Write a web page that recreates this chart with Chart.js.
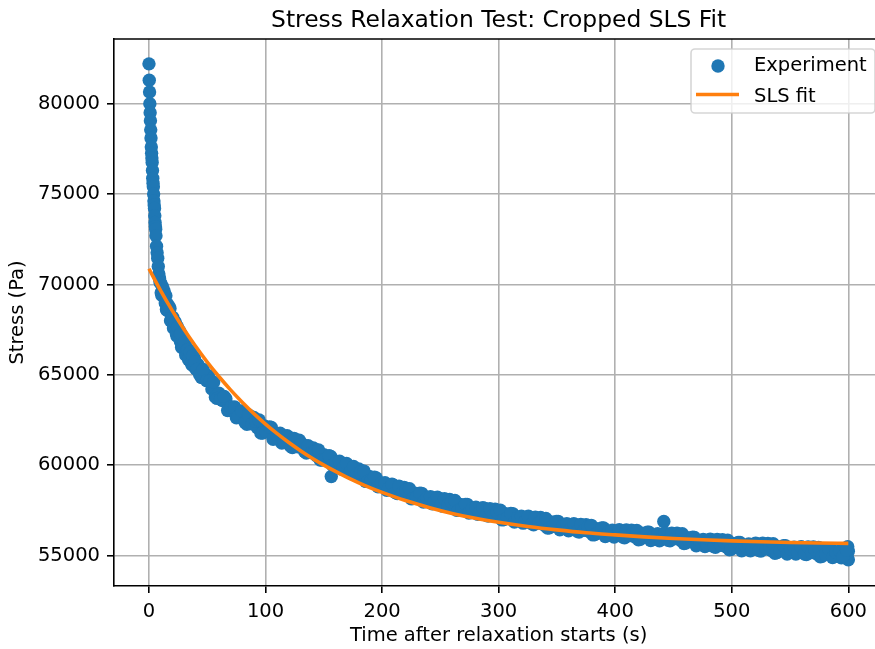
<!DOCTYPE html>
<html>
<head>
<meta charset="utf-8">
<script src="https://cdn.jsdelivr.net/npm/chart.js@4"></script>
<style>
	html, body { margin: 0; padding: 0; background: #fff; overflow: hidden; }
	canvas { display: block; }
</style>
</head>
<body>
<canvas id="CanvasRelaxation" width="890" height="649"></canvas>
<script>
var chartTitle = 'Stress Relaxation Test: Cropped SLS Fit';
var xLabel = 'Time after relaxation starts (s)';
var yLabel = 'Stress (Pa)';
var xTicks = [0, 100, 200, 300, 400, 500, 600];
var yTicks = [55000, 60000, 65000, 70000, 75000, 80000];

// measured points (time in s), first pass of samples
var expTime = [
	0, 0.25, 0.5, 0.75, 1, 1.25, 1.5, 1.75, 2, 2.25,
	2.5, 2.75, 3, 3.25, 3.5, 3.75, 4, 4.25, 4.5, 4.75,
	5, 5.25, 5.5, 5.75, 6, 6.5, 7, 7.5, 8, 8.5,
	9, 9.5,
	10, 11, 12, 13, 14, 15, 16, 17, 18, 19,
	20, 21, 22, 23, 24, 25, 26, 27, 28, 29,
	30, 31, 32, 33, 34, 35, 36, 37, 38, 39,
	40,
	42, 45, 48, 51, 54, 57, 60, 63, 66, 69,
	72, 75, 78, 81, 84, 87, 90, 93, 96, 99,
	102, 105, 108, 111, 114, 117, 120, 123, 126, 129,
	132, 135, 138, 141, 144, 147, 150, 153, 156, 159,
	162, 165, 168, 171, 174, 177, 180, 183, 186, 189,
	192, 195, 198,
	201, 204, 207, 210, 213, 216, 219, 222, 225, 228,
	231, 234, 237, 240, 243, 246, 249, 252, 255, 258,
	261, 264, 267, 270, 273, 276, 279, 282, 285, 288,
	291, 294, 297, 300,
	303, 306, 309, 312, 315, 318, 321, 324, 327, 330,
	333, 336, 339, 342, 345, 348, 351, 354, 357, 360,
	363, 366, 369, 372, 375, 378, 381, 384, 387, 390,
	393, 396, 399,
	402, 405, 408, 411, 414, 417, 420, 423, 426, 429,
	432, 435, 438, 441, 444, 447, 450, 453, 456, 459,
	462, 465, 468, 471, 474, 477, 480, 483, 486, 489,
	492, 495, 498, 501,
	504, 507, 510, 513, 516, 519, 522, 525, 528, 531,
	534, 537, 540, 543, 546, 549, 552, 555, 558, 561,
	564, 567, 570, 573, 576, 579, 582, 585, 588, 591,
	594, 597, 600,
	156.4, 441.7, 599.5, 600, 599
];
var expStress = [
	82200, 81300, 80650, 80000, 79500, 79050, 78550, 78100, 77600, 77250,
	77000, 76750, 76300, 75880, 75600, 75400, 75000, 74620, 74400, 74200,
	73800, 73430, 73200, 73050, 72700, 72120, 71750, 71450, 71000, 70580,
	70350, 70130,
	70070, 69410, 69580, 69640, 68970, 68610, 68910, 68550, 68670, 68030,
	68090, 67590, 67910, 67790, 67150, 67360, 67460, 66840, 66530, 66880,
	66570, 66750, 66170, 66280, 65840, 66210, 66140, 65540, 65790, 65930,
	65350,
	65580, 64850, 64960, 64950, 64220, 63770, 63990, 63580, 63680, 63040,
	63110, 62630, 62970, 62880, 62270, 62510, 62650, 62070, 61790, 62170,
	61890, 62090, 61530, 61660, 61230, 61610, 61560, 60980, 61240, 61390,
	61150, 60680, 60860, 60960, 60510, 60290, 60580, 60350, 60490, 60050,
	60130, 59790, 60070, 60010, 59530, 59700, 59800, 59340, 59110, 59390,
	59160, 59300, 58860,
	58940, 58620, 58920, 58880, 58440, 58650, 58780, 58350, 58150, 58460,
	58270, 58450, 58050, 58170, 57870, 58190, 58170, 57740, 57960, 58110,
	57700, 57510, 57830, 57650, 57840, 57450, 57580, 57290, 57620, 57610,
	57190, 57420, 57570, 57160,
	56980, 57320, 57140, 57330, 56950, 57080, 56800, 57130, 57130, 56710,
	56950, 57110, 56700, 56530, 56870, 56700, 56900, 56520, 56660, 56380,
	56720, 56720, 56310, 56550, 56720, 56320, 56150, 56490, 56330, 56530,
	56160, 56300, 56030,
	56380, 56390, 55990, 56240, 56410, 56030, 55880, 56240, 56090, 56300,
	55940, 56100, 55830, 56190, 56210, 55820, 56080, 56250, 55850, 55670,
	56000, 55820, 56010, 55630, 55780, 55510, 55860, 55870, 55470, 55710,
	55880, 55490, 55330, 55680,
	55520, 55730, 55370, 55530, 55270, 55630, 55650, 55260, 55510, 55680,
	55290, 55140, 55490, 55340, 55550, 55190, 55350, 55090, 55440, 55450,
	55060, 55310, 55480, 55090, 54940, 55290, 55140, 55360, 55000, 55150,
	54890, 55250, 55250,
	59380, 56890, 55500, 54780, 54950
];

// in-between samples
var expTimeB = [
	10.5, 11.5, 12.5, 13.5, 14.5, 15.5, 16.5, 17.5, 18.5, 19.5,
	20.5, 21.5, 22.5, 23.5, 24.5, 25.5, 26.5, 27.5, 28.5, 29.5,
	30.5, 31.5, 32.5, 33.5, 34.5, 35.5, 36.5, 37.5, 38.5, 39.5,
	41,
	43.5, 46.5, 49.5, 52.5, 55.5, 58.5, 61.5, 64.5, 67.5, 70.5,
	73.5, 76.5, 79.5, 82.5, 85.5, 88.5, 91.5, 94.5, 97.5, 100.5,
	103.5, 106.5, 109.5, 112.5, 115.5, 118.5, 121.5, 124.5, 127.5, 130.5,
	133.5, 136.5, 139.5, 142.5, 145.5, 148.5, 151.5, 154.5, 157.5, 160.5,
	163.5, 166.5, 169.5, 172.5, 175.5, 178.5, 181.5, 184.5, 187.5, 190.5,
	193.5, 196.5, 199.5,
	202.5, 205.5, 208.5, 211.5, 214.5, 217.5, 220.5, 223.5, 226.5, 229.5,
	232.5, 235.5, 238.5, 241.5, 244.5, 247.5, 250.5, 253.5, 256.5, 259.5,
	262.5, 265.5, 268.5, 271.5, 274.5, 277.5, 280.5, 283.5, 286.5, 289.5,
	292.5, 295.5, 298.5, 301.5,
	304.5, 307.5, 310.5, 313.5, 316.5, 319.5, 322.5, 325.5, 328.5, 331.5,
	334.5, 337.5, 340.5, 343.5, 346.5, 349.5, 352.5, 355.5, 358.5, 361.5,
	364.5, 367.5, 370.5, 373.5, 376.5, 379.5, 382.5, 385.5, 388.5, 391.5,
	394.5, 397.5, 400.5,
	403.5, 406.5, 409.5, 412.5, 415.5, 418.5, 421.5, 424.5, 427.5, 430.5,
	433.5, 436.5, 439.5, 442.5, 445.5, 448.5, 451.5, 454.5, 457.5, 460.5,
	463.5, 466.5, 469.5, 472.5, 475.5, 478.5, 481.5, 484.5, 487.5, 490.5,
	493.5, 496.5, 499.5, 502.5,
	505.5, 508.5, 511.5, 514.5, 517.5, 520.5, 523.5, 526.5, 529.5, 532.5,
	535.5, 538.5, 541.5, 544.5, 547.5, 550.5, 553.5, 556.5, 559.5, 562.5,
	565.5, 568.5, 571.5, 574.5, 577.5, 580.5, 583.5, 586.5, 589.5, 592.5,
	595.5, 598.5
];
var expStressB = [
	69540, 69890, 69330, 69390, 69380, 68570, 68560, 68750, 67990, 68200,
	68180, 67650, 67920, 67270, 67650, 67130, 67230, 67280, 66520, 66560,
	66800, 66100, 66360, 66400, 65930, 66250, 65640, 66060, 65580, 65720,
	65300,
	65010, 65300, 64680, 64670, 64600, 63700, 63670, 63810, 63030, 63230,
	63220, 62710, 63000, 62370, 62780, 62290, 62430, 62510, 61780, 61850,
	62120, 61440, 61720, 61770, 61310, 61640, 61050, 61490, 61020, 61170,
	60760, 61080, 60700, 60790, 60850, 60290, 60340, 60530, 60000, 60200,
	60220, 59860, 60100, 59620, 59930, 59540, 59630, 59680, 59110, 59150,
	59340, 58810, 59010,
	59040, 58700, 58960, 58500, 58850, 58500, 58620, 58700, 58160, 58230,
	58460, 57970, 58210, 58270, 57950, 58230, 57790, 58150, 57810, 57950,
	58050, 57520, 57600, 57840, 57360, 57610, 57680, 57370, 57660, 57230,
	57600, 57270, 57410, 57510,
	57000, 57100, 57340, 56860, 57120, 57190, 56890, 57180, 56760, 57130,
	56810, 56960, 57060, 56550, 56650, 56900, 56430, 56690, 56770, 56470,
	56770, 56350, 56730, 56410, 56570, 56680, 56170, 56270, 56530, 56060,
	56330, 56410, 56120,
	56440, 56030, 56420, 56110, 56270, 56400, 55910, 56030, 56300, 55840,
	56120, 56220, 55930, 56250, 55850, 56250, 55950, 56110, 56220, 55700,
	55790, 56030, 55550, 55810, 55900, 55610, 55920, 55510, 55900, 55580,
	55740, 55860, 55360, 55470,
	55730, 55270, 55550, 55650, 55370, 55690, 55290, 55690, 55380, 55540,
	55660, 55170, 55280, 55550, 55090, 55370, 55470, 55190, 55500, 55090,
	55490, 55180, 55340, 55460, 54970, 55080, 55350, 54900, 55180, 55270,
	54990, 55310
];

// fitted curve
var fitTime = [0, 10, 20, 30, 40, 50, 60, 70, 80, 90, 100, 110, 120, 130, 140, 150, 160, 170, 180, 190,
	200, 220, 240, 260, 280, 300, 325, 350, 375, 400, 425, 450, 475, 500, 525, 550, 575, 600];
var fitStress = [70870, 69660, 68550, 67520, 66580, 65710, 64910, 64170, 63490, 62860, 62280, 61750, 61260, 60810, 60390, 60010, 59660, 59330, 59030, 58750,
	58500, 58050, 57670, 57340, 57070, 56850, 56620, 56430, 56270, 56150, 56040, 55950, 55880, 55820, 55770, 55730, 55700, 55680];

var blue = '#1f77b4';
var orange = '#ff7f0e';
var fontFamily = '"DejaVu Sans", sans-serif';

function ToPoints(xs, ys) {
	var pts = [];
	for (var i = 0; i < xs.length; i++) {
		pts.push({ x: xs[i], y: ys[i] });
	}
	return pts;
}

// top spine, title and legend box (matplotlib look)
var framePlugin = {
	id: 'frame',
	afterDatasetsDraw: function (chart) {
		var ctx = chart.ctx;
		var a = chart.chartArea;
		ctx.save();

		ctx.strokeStyle = '#000';
		ctx.lineWidth = 1.6;
		ctx.beginPath();
		ctx.moveTo(a.left, a.top);
		ctx.lineTo(a.right, a.top);
		ctx.stroke();

		ctx.fillStyle = '#000';
		ctx.font = '23.4px ' + fontFamily;
		ctx.textAlign = 'center';
		ctx.textBaseline = 'alphabetic';
		ctx.fillText(chartTitle, (a.left + a.right) / 2, 27);

		// legend
		var lx = 691, ly = 49, lw = 184, lh = 64, r = 4;
		ctx.beginPath();
		ctx.moveTo(lx + r, ly);
		ctx.lineTo(lx + lw - r, ly);
		ctx.arcTo(lx + lw, ly, lx + lw, ly + r, r);
		ctx.lineTo(lx + lw, ly + lh - r);
		ctx.arcTo(lx + lw, ly + lh, lx + lw - r, ly + lh, r);
		ctx.lineTo(lx + r, ly + lh);
		ctx.arcTo(lx, ly + lh, lx, ly + lh - r, r);
		ctx.lineTo(lx, ly + r);
		ctx.arcTo(lx, ly, lx + r, ly, r);
		ctx.closePath();
		ctx.fillStyle = 'rgba(255,255,255,0.8)';
		ctx.fill();
		ctx.strokeStyle = 'rgba(204,204,204,0.8)';
		ctx.lineWidth = 1.6;
		ctx.stroke();

		ctx.fillStyle = blue;
		ctx.beginPath();
		ctx.arc(718, 66, 6.7, 0, Math.PI * 2);
		ctx.fill();

		ctx.strokeStyle = orange;
		ctx.lineWidth = 3.6;
		ctx.beginPath();
		ctx.moveTo(696, 94.5);
		ctx.lineTo(739, 94.5);
		ctx.stroke();

		ctx.fillStyle = '#000';
		ctx.font = '19.5px ' + fontFamily;
		ctx.textAlign = 'left';
		ctx.textBaseline = 'alphabetic';
		ctx.fillText('Experiment', 754, 71);
		ctx.fillText('SLS fit', 754, 102);

		ctx.restore();
	}
};

var tickFont = { family: fontFamily, size: 19.5 };
var expPoints = ToPoints(expTime, expStress).concat(ToPoints(expTimeB, expStressB));

const context = document.getElementById('CanvasRelaxation');
const myChart = new Chart(context, {
	type: 'scatter',
	data: {
		datasets: [
			{
				label: 'SLS fit',
				data: ToPoints(fitTime, fitStress),
				showLine: true,
				borderColor: orange,
				borderWidth: 3.6,
				pointRadius: 0,
				fill: false,
				cubicInterpolationMode: 'monotone',
				order: 1
			},
			{
				label: 'Experiment',
				data: expPoints,
				pointBackgroundColor: blue,
				pointBorderWidth: 0,
				pointRadius: 6.7,
				order: 2
			}
		]
	},
	options: {
		responsive: false,
		animation: false,
		events: [],
		layout: { padding: { top: 39, right: 5, left: 0, bottom: 0 } },
		plugins: {
			legend: { display: false },
			tooltip: { enabled: false }
		},
		scales: {
			x: {
				type: 'linear',
				min: -30,
				max: 630,
				afterBuildTicks: function (scale) {
					scale.ticks = xTicks.map(function (v) { return { value: v }; });
				},
				afterFit: function (scale) { scale.height = 63; },
				ticks: {
					autoSkip: false,
					maxRotation: 0,
					padding: 7,
					color: '#000',
					font: tickFont,
					callback: function (v) { return String(v); }
				},
				grid: { color: '#b0b0b0', lineWidth: 1.6, tickColor: '#000', tickLength: 7, tickWidth: 1.6 },
				border: { color: '#000', width: 1.6 },
				title: {
					display: true,
					text: xLabel,
					color: '#000',
					font: tickFont,
					padding: { top: 0, bottom: 1.5 }
				}
			},
			y: {
				type: 'linear',
				min: 53325,
				max: 83575,
				afterBuildTicks: function (scale) {
					scale.ticks = yTicks.map(function (v) { return { value: v }; });
				},
				afterFit: function (scale) { scale.width = 114; },
				ticks: {
					autoSkip: false,
					padding: 7,
					color: '#000',
					font: tickFont,
					callback: function (v) { return String(v); }
				},
				grid: { color: '#b0b0b0', lineWidth: 1.6, tickColor: '#000', tickLength: 7, tickWidth: 1.6 },
				border: { color: '#000', width: 1.6 },
				title: {
					display: true,
					text: yLabel,
					color: '#000',
					font: tickFont,
					padding: { top: 6, bottom: 0 }
				}
			}
		}
	},
	plugins: [framePlugin]
});
</script>
</body>
</html>
